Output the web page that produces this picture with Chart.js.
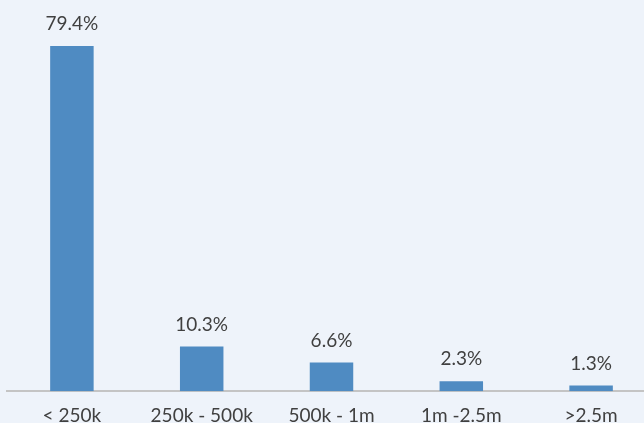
<!DOCTYPE html>
<html><head><meta charset="utf-8">
<script src="https://cdn.jsdelivr.net/npm/chart.js@4"></script>
<style>
html,body{margin:0;padding:0;background:#eef3fa;overflow:hidden;width:644px;height:423px}
#wrap{position:absolute;left:0;top:0;width:656px;height:440px}
</style></head><body>
<div id="wrap"><canvas id="c" width="656" height="440"></canvas></div>
<script>
const categories = ["< 250k", "250k - 500k", "500k - 1m", "1m -2.5m", ">2.5m"];
const shares = [79.4, 10.3, 6.6, 2.3, 1.3];
const valueLabels = ["79.4%", "10.3%", "6.6%", "2.3%", "1.3%"];

const FONT = "Lato, 'Open Sans', 'Liberation Sans', sans-serif";

const labelPlugin = {
  id: 'valueLabels',
  afterDatasetsDraw(chart) {
    const ctx = chart.ctx;
    const meta = chart.getDatasetMeta(0);
    ctx.save();
    ctx.font = "19px " + FONT;
    ctx.fillStyle = "#404040";
    ctx.textAlign = "center";
    ctx.textBaseline = "middle";
    meta.data.forEach((bar, i) => {
      ctx.fillText(valueLabels[i], bar.x, bar.y - 22);
    });
    ctx.restore();
  }
};

new Chart(document.getElementById('c'), {
  type: 'bar',
  data: {
    labels: categories,
    datasets: [{
      data: shares,
      backgroundColor: '#4f8bc2',
      borderWidth: 0,
      barPercentage: 0.335,
      categoryPercentage: 1
    }]
  },
  options: {
    responsive: false,
    animation: false,
    layout: { padding: { left: 7, right: 0, top: 0, bottom: 0 } },
    plugins: { legend: { display: false }, tooltip: { enabled: false } },
    scales: {
      x: {
        grid: { display: false, drawTicks: false },
        border: { display: true, color: '#c4c4c4', width: 2 },
        ticks: { color: '#404040', font: { family: FONT, size: 19 }, padding: 13, maxRotation: 0 }
      },
      y: {
        display: false,
        min: 0,
        max: 90
      }
    }
  },
  plugins: [labelPlugin]
});
</script>
</body></html>
